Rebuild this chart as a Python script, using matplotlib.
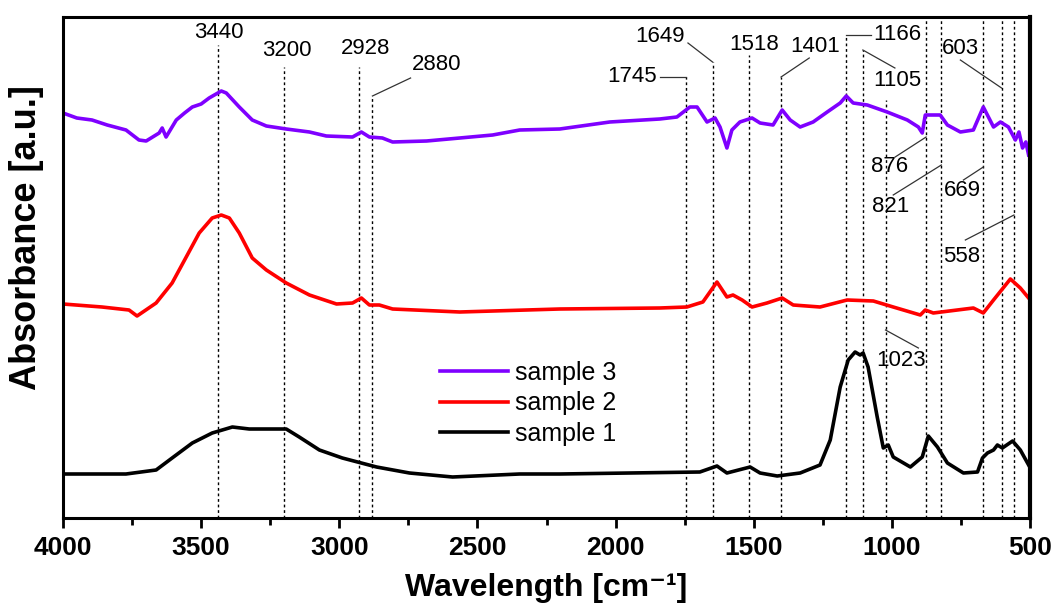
import matplotlib
matplotlib.use("Agg")
import matplotlib.pyplot as plt

# FTIR spectra, wavenumber [cm-1] and absorbance (offset, arbitrary units)
wn_s3 = [4000, 3950, 3895, 3840, 3772, 3725, 3699, 3652, 3641, 3627, 3590, 3560, 3532,
         3500, 3471, 3427, 3409, 3362, 3315, 3264, 3192, 3108, 3047, 2952, 2920, 2891,
         2844, 2807, 2684, 2564, 2445, 2347, 2202, 2021, 1840, 1778, 1731, 1705, 1669,
         1640, 1622, 1597, 1579, 1550, 1506, 1477, 1430, 1397, 1368, 1332, 1285, 1234,
         1187, 1165, 1140, 1089, 1017, 944, 904, 890, 879, 825, 799, 752, 705, 669,
         632, 607, 578, 553, 540, 527, 515, 505]
ab_s3 = [4.05, 4.00, 3.98, 3.93, 3.88, 3.78, 3.77, 3.85, 3.90, 3.81, 3.98, 4.05, 4.11,
         4.14, 4.20, 4.27, 4.25, 4.11, 3.98, 3.92, 3.89, 3.86, 3.82, 3.81, 3.86, 3.81,
         3.80, 3.76, 3.77, 3.80, 3.83, 3.88, 3.89, 3.96, 3.99, 4.01, 4.11, 4.11, 3.96,
         4.00, 3.91, 3.70, 3.88, 3.96, 4.00, 3.95, 3.93, 4.08, 3.98, 3.91, 3.96, 4.06,
         4.15, 4.22, 4.15, 4.13, 4.06, 3.98, 3.91, 3.85, 4.03, 4.03, 3.93, 3.86, 3.88,
         4.11, 3.91, 3.96, 3.91, 3.78, 3.86, 3.70, 3.76, 3.63]

wn_s2 = [4000, 3859, 3761, 3732, 3663, 3605, 3554, 3507, 3460, 3427, 3398, 3362, 3315,
         3264, 3192, 3108, 3010, 2952, 2920, 2891, 2855, 2807, 2564, 2202, 1840, 1742,
         1684, 1633, 1597, 1575, 1542, 1506, 1452, 1397, 1357, 1260, 1162, 1067, 995,
         897, 879, 850, 705, 669, 632, 571, 535, 505]
ab_s2 = [2.14, 2.11, 2.08, 2.02, 2.15, 2.35, 2.61, 2.85, 3.00, 3.03, 3.00, 2.85, 2.60,
         2.48, 2.35, 2.23, 2.14, 2.15, 2.20, 2.13, 2.13, 2.09, 2.06, 2.09, 2.10, 2.11,
         2.16, 2.36, 2.21, 2.23, 2.18, 2.11, 2.15, 2.20, 2.13, 2.11, 2.18, 2.17, 2.11,
         2.03, 2.08, 2.05, 2.10, 2.05, 2.18, 2.39, 2.30, 2.20]

wn_s1 = [4000, 3772, 3663, 3605, 3532, 3460, 3387, 3326, 3192, 3145, 3072, 2989, 2865,
         2746, 2590, 2347, 2202, 1695, 1633, 1597, 1513, 1477, 1415, 1332, 1260, 1223,
         1187, 1158, 1133, 1115, 1104, 1086, 1053, 1031, 1013, 995, 933, 890, 868, 835,
         799, 741, 690, 672, 654, 632, 618, 600, 563, 535, 505]
ab_s1 = [0.44, 0.44, 0.48, 0.60, 0.75, 0.85, 0.91, 0.89, 0.89, 0.81, 0.68, 0.60, 0.51,
         0.45, 0.41, 0.44, 0.44, 0.46, 0.52, 0.45, 0.51, 0.45, 0.42, 0.45, 0.53, 0.78,
         1.31, 1.58, 1.66, 1.63, 1.65, 1.51, 1.01, 0.70, 0.73, 0.61, 0.51, 0.61, 0.82,
         0.71, 0.55, 0.45, 0.46, 0.60, 0.65, 0.68, 0.73, 0.70, 0.77, 0.68, 0.53]

peak_labels = [3440, 3200, 2928, 2880, 1745, 1649, 1518, 1401, 1166, 1105,
               1023, 876, 821, 669, 603, 558]

YMAX = 5.01
# layout per peak: top of dotted line, label (x, y, ha), leader segment or None
layout = {
    3440: (4.73, (3435, 4.86, "center"), None),
    3200: (4.51, (3188, 4.68, "center"), None),
    2928: (4.51, (2905, 4.70, "center"), None),
    2880: (4.22, (2648, 4.53, "center"), ((2880, 4.22), (2742, 4.40))),
    1745: (4.41, (1850, 4.41, "right"), ((1745, 4.41), (1840, 4.41))),
    1649: (4.56, (1840, 4.82, "center"), ((1649, 4.56), (1738, 4.75))),
    1518: (4.63, (1499, 4.73, "center"), None),
    1401: (4.41, (1278, 4.71, "center"), ((1401, 4.41), (1299, 4.60))),
    1166: (4.83, (1068, 4.84, "left"), ((1166, 4.83), (1075, 4.83))),
    1105: (4.68, (980, 4.38, "center"), ((1105, 4.68), (989, 4.50))),
    1023: (4.18, (966, 1.58, "center"), ((1023, 1.88), (904, 1.70))),
    876: (YMAX, (1009, 3.51, "center"), ((876, 3.81), (988, 3.61))),
    821: (YMAX, (1006, 3.11, "center"), ((821, 3.53), (995, 3.23))),
    669: (YMAX, (745, 3.28, "center"), ((669, 3.51), (741, 3.38))),
    603: (YMAX, (752, 4.70, "center"), ((603, 4.30), (752, 4.58))),
    558: (YMAX, (748, 2.61, "center"), ((558, 3.03), (734, 2.78))),
}

plt.rcParams["font.family"] = ["Liberation Sans", "DejaVu Sans"]

fig = plt.figure(figsize=(10.6, 6.06), dpi=100)
ax = fig.add_axes([63 / 1060, 1 - 518 / 606, 967 / 1060, 501 / 606])

for p in peak_labels:
    top, (lx, ly, ha), leader = layout[p]
    ax.plot([p, p], [0, top], color="black", lw=1, ls=(0, (2, 2)), zorder=1)
    if leader is not None:
        (x0, y0), (x1, y1) = leader
        ax.plot([x0, x1], [y0, y1], color="#333333", lw=0.9, zorder=1)
    ax.text(lx, ly, str(p), ha=ha, va="center", fontsize=16, zorder=3)

l1, = ax.plot(wn_s1, ab_s1, color="black", lw=2.6, label="sample 1", zorder=2)
l2, = ax.plot(wn_s2, ab_s2, color="#ff0000", lw=2.6, label="sample 2", zorder=2)
l3, = ax.plot(wn_s3, ab_s3, color="#7f00ff", lw=2.6, label="sample 3", zorder=2)

ax.legend(handles=[l3, l2, l1], loc="upper left", bbox_to_anchor=(0.39, 0.313),
          frameon=False, fontsize=18, handlelength=2.7, handletextpad=0.3,
          labelspacing=0.25, borderpad=0, borderaxespad=0)

ax.set_xlim(4000, 500)
ax.set_ylim(0, YMAX)
ax.set_xticks([4000, 3500, 3000, 2500, 2000, 1500, 1000, 500])
ax.set_xticks([3750, 3250, 2750, 2250, 1750, 1250, 750], minor=True)
ax.set_yticks([])
ax.tick_params(axis="x", which="major", direction="out", length=7, width=2, pad=6)
ax.tick_params(axis="x", which="minor", direction="out", length=5, width=2)
for lab in ax.get_xticklabels():
    lab.set_fontweight("bold")
    lab.set_fontsize(19)

for side in ["left", "bottom", "top"]:
    ax.spines[side].set_linewidth(2.2)
ax.spines["right"].set_linewidth(3)

ax.set_xlabel("Wavelength [cm\u207b\u00b9]", fontsize=23, fontweight="bold", labelpad=9)
ax.set_ylabel("Absorbance [a.u.]", fontsize=26, fontweight="bold")
ax.yaxis.set_label_coords(-0.02, 0.56)

fig.savefig("out.png", dpi=100)
